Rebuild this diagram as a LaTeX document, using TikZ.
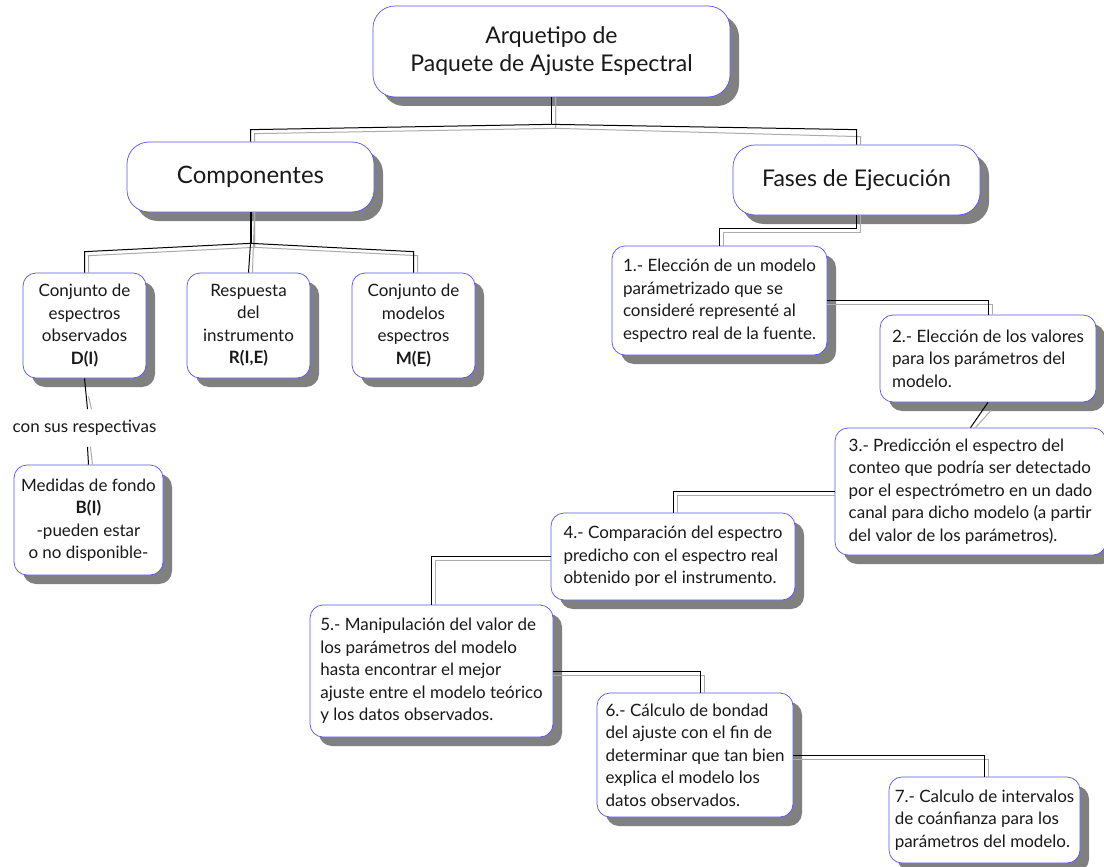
\documentclass[tikz,border=0pt]{standalone}
\usepackage{fontspec}
\setmainfont{Lato}
\usetikzlibrary{shadows}
\definecolor{bblue}{RGB}{85,85,240}
\definecolor{shgray}{RGB}{128,128,128}
\begin{document}
\begin{tikzpicture}[x=1pt,y=-1pt,
  box/.style={rectangle, rounded corners=13pt, draw=bblue, line width=0.7pt, fill=white,
    drop shadow={shadow xshift=9pt, shadow yshift=-9pt, fill=shgray, opacity=1},
    inner sep=0pt, font=\fontsize{17}{22.5}\selectfont, text=black!90},
  bigbox/.style={box, rounded corners=22pt},
  lbox/.style={box, align=left},
  cbox/.style={box, align=center},
  bl/.style={draw=black, line width=1pt},
  gr/.style={draw=gray!65, line width=1pt}]
\useasboundingbox (0,0) rectangle (1104,867);
\fill[white] (0,0) rectangle (1104,867);

% nodes
\node[bigbox, align=center, minimum width=357, minimum height=91,
  font=\fontsize{23}{28}\selectfont] (top) at (551.5,51.5) {Arquetipo de\\Paquete de Ajuste Espectral};
\node[bigbox, minimum width=247, minimum height=70, font=\fontsize{24}{28}\selectfont] (comp) at (250.5,177) {Componentes};
\node[bigbox, minimum width=247, minimum height=70, font=\fontsize{23}{28}\selectfont] (fases) at (856.5,180) {Fases de Ejecución};

\node[cbox, minimum width=123, minimum height=105] (c1) at (84.5,325.5) {Conjunto de\\espectros\\observados\\\textbf{D(I)}};
\node[cbox, minimum width=123, minimum height=105] (c2) at (248.5,325.5) {Respuesta\\del\\instrumento\\\textbf{R(I,E)}};
\node[cbox, minimum width=123, minimum height=105] (c3) at (413.5,325.5) {Conjunto de\\modelos\\espectros\\\textbf{M(E)}};
\node[inner xsep=0pt, inner ysep=11pt, font=\fontsize{17}{22.5}\selectfont, text=black!90] (resp) at (84.5,428) {con sus respectivas};
\node[cbox, minimum width=149, minimum height=110] (med) at (88.5,520) {Medidas de fondo\\\textbf{B(I)}\\-pueden estar\\o no disponible-};

\node[lbox, minimum width=215, minimum height=109] (p1) at (719.5,300.5) {1.- Elección de un modelo\\parámetrizado que se\\consideré representé al\\espectro real de la fuente.};
\node[lbox, minimum width=216, minimum height=87] (p2) at (988,358.5) {2.- Elección de los valores\\para los parámetros del\\modelo.};
\node[lbox, minimum width=271, minimum height=127] (p3) at (970.5,491.5) {3.- Predicción el espectro del\\conteo que podría ser detectado\\por el espectrómetro en un dado\\canal para dicho modelo (a partir\\del valor de los parámetros).};
\node[lbox, minimum width=244, minimum height=87] (p4) at (673,556.5) {4.- Comparación del espectro\\predicho con el espectro real\\obtenido por el instrumento.};
\node[lbox, minimum width=243, minimum height=132] (p5) at (431.5,671) {5.- Manipulación del valor de\\los parámetros del modelo\\hasta encontrar el mejor\\ajuste entre el modelo teórico\\y los datos observados.};
\node[lbox, minimum width=196, minimum height=124] (p6) at (695,755) {6.- Cálculo de bondad\\del ajuste con el fin de\\determinar que tan bien\\explica el modelo los\\datos observados.};
\node[lbox, minimum width=191, minimum height=86] (p7) at (984.5,820) {7.- Calculo de intervalos\\de coánfianza para los\\parámetros del modelo.};

% connectors: top -> comp, fases
\draw[gr] ([xshift=4pt]top.south) -- ++(0,31) -- ([xshift=4pt,yshift=8pt]comp.north) -- ([xshift=4pt]comp.north);
\draw[gr] ([xshift=4pt]top.south) -- ++(0,31) -- ([xshift=4pt,yshift=8pt]fases.north) -- ([xshift=4pt]fases.north);
\draw[bl, line width=1.4pt] (top.south) -- ++(0,27);
\draw[bl] ([yshift=-27pt]top.south) -- ([yshift=12pt]comp.north) -- (comp.north);
\draw[bl] ([yshift=-27pt]top.south) -- ([yshift=15pt]fases.north) -- (fases.north);

% comp -> c1, c2, c3
\draw[gr] ([xshift=4pt]comp.south) -- ++(0,35) -- ([xshift=4pt,yshift=17pt]c1.north) -- ([xshift=4pt]c1.north);
\draw[gr] ([xshift=4pt]comp.south) -- ++(0,35) -- ([xshift=4pt,yshift=17pt]c3.north) -- ([xshift=4pt]c3.north);
\draw[gr] ([xshift=4pt]comp.south) -- ([xshift=4pt]c2.north);
\draw[bl, line width=2pt] (comp.south) -- ++(0,31);
\draw[bl] ([yshift=-31pt]comp.south) -- ([yshift=21pt]c1.north) -- (c1.north);
\draw[bl] ([yshift=-31pt]comp.south) -- ([yshift=21pt]c3.north) -- (c3.north);
\draw[bl] ([yshift=-31pt]comp.south) -- (c2.north);

% c1 -> resp -> med
\draw[gr] ([xshift=4pt,yshift=-18pt]c1.south) -- ([xshift=7pt]resp.north);
\draw[bl] (c1.south) -- ([xshift=3pt]resp.north);
\draw[gr] ([xshift=6pt]resp.south) -- ([xshift=4pt]med.north);
\draw[bl] ([xshift=3pt]resp.south) -- (med.north);

% fases -> p1
\draw[gr] ([xshift=4pt]fases.south) -- ++(0,17) -| ([xshift=4pt]p1.north);
\draw[bl] (fases.south) -- ++(0,13) -| (p1.north);
% p1 -> p2
\draw[gr] ([yshift=-4pt]p1.east) -| ([xshift=4pt]p2.north);
\draw[bl] (p1.east) -| (p2.north);
% p2 -> p3
\draw[gr] ([xshift=3pt,yshift=-8pt]p2.south) -- ([xshift=5pt]p3.north);
\draw[bl] (p2.south) -- (p3.north);
% p3 -> p4
\draw[gr] ([yshift=-4pt]p3.west) -| ([xshift=4pt]p4.north);
\draw[bl] (p3.west) -| (p4.north);
% p4 -> p5
\draw[gr] ([yshift=-4pt]p4.west) -| ([xshift=4pt]p5.north);
\draw[bl] (p4.west) -| (p5.north);
% p5 -> p6
\draw[gr] ([yshift=-4pt]p5.east) -| ([xshift=9pt]p6.north);
\draw[bl] (p5.east) -| ([xshift=5pt]p6.north);
% p6 -> p7
\draw[gr] ([yshift=-4pt]p6.east) -| ([xshift=4pt]p7.north);
\draw[bl] (p6.east) -| (p7.north);
\end{tikzpicture}
\end{document}
